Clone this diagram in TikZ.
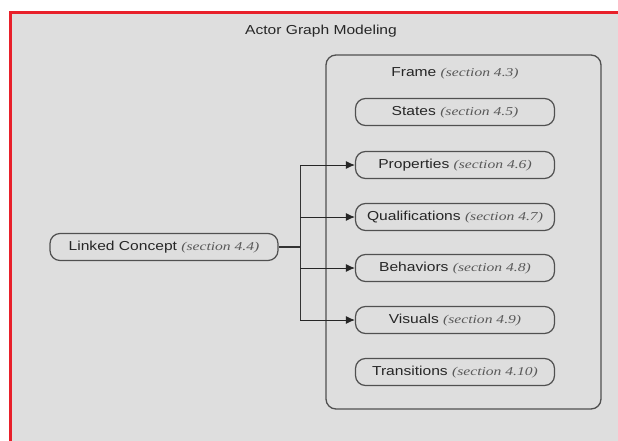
\documentclass[tikz,border=0pt]{standalone}
\usepackage{fontspec}
\setmainfont{Liberation Sans}[FakeStretch=1.2]
\newfontfamily\secfont{Liberation Serif}[FakeStretch=1.3]
\usetikzlibrary{arrows.meta}
\definecolor{panelgray}{HTML}{DEDEDE}
\definecolor{edgegray}{HTML}{505050}
\definecolor{framered}{HTML}{E8202A}
\newcommand{\sect}[1]{{\secfont\itshape\fontsize{12}{14}\selectfont\color{black!65}(section #1)}}
\tikzset{
  lbl/.style={font=\fontsize{13}{15}\selectfont, text=black!85},
  pill/.style={lbl, draw=edgegray, line width=1.2pt, rounded corners=10pt, fill=panelgray,
    minimum height=27pt, inner sep=1pt},
  part/.style={pill, minimum width=199pt},
  link/.style={draw=black!85, line width=0.9pt, -{Latex[length=9pt,width=8pt]}},
}
\begin{document}
\begin{tikzpicture}[x=1pt,y=-1pt]
\useasboundingbox (0,0) rectangle (618,441);
\fill[white] (0,0) rectangle (618,441);
\fill[panelgray] (11,12) rectangle (618,441);
\draw[framered, line width=3pt] (10.5,441) -- (10.5,12.5) -- (618,12.5);

\node[lbl] (title) at (321,31) {Actor Graph Modeling};

\draw[edgegray, line width=1.3pt, rounded corners=10pt] (326,55) rectangle (601,409);
\node[lbl] (frame) at (455,73) {Frame \sect{4.3}};

\node[part] (states) at (455,112) {States \sect{4.5}};
\node[part] (props)  at (455,165) {Properties \sect{4.6}};
\node[part] (quals)  at (455,217) {Qualifications \sect{4.7}};
\node[part] (behav)  at (455,268) {Behaviors \sect{4.8}};
\node[part] (vis)    at (455,320) {Visuals \sect{4.9}};
\node[part] (trans)  at (455,372) {Transitions \sect{4.10}};

\node[pill, minimum width=228pt] (lc) at (164,247) {Linked Concept \sect{4.4}};

\coordinate (j) at (300,247);
\draw[black!80, line width=2.4pt] (lc.east) -- (j);
\draw[black!80, line width=0.9pt] (300,165) -- (300,320);
\foreach \t in {props,quals,behav,vis}
  \draw[link] (300,0 |- \t.west) -- (\t.west);
\end{tikzpicture}
\end{document}
